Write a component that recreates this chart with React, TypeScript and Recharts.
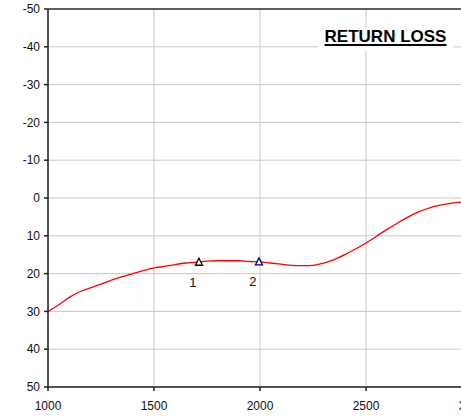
import React from 'react';
import {
  ComposedChart,
  Line,
  Scatter,
  XAxis,
  YAxis,
  CartesianGrid,
  ReferenceLine,
} from 'recharts';

// frequency (MHz) and return loss (dB)
const FREQS = [
  1000, 1050, 1100, 1150, 1200, 1250, 1300, 1350, 1400, 1450, 1500, 1550, 1600,
  1650, 1700, 1750, 1800, 1850, 1900, 1950, 2000, 2050, 2100, 2150, 2200, 2250,
  2300, 2350, 2400, 2450, 2500, 2550, 2600, 2650, 2700, 2750, 2800, 2850, 2900,
  2950, 3000,
];
const RETURN_LOSS = [
  30.0, 28.3, 26.3, 24.8, 23.8, 22.8, 21.7, 20.8, 20.0, 19.2, 18.5, 18.1, 17.6,
  17.2, 17.0, 16.7, 16.6, 16.6, 16.6, 16.8, 16.9, 17.2, 17.5, 17.8, 17.9, 17.8,
  17.2, 16.3, 15.0, 13.5, 11.9, 10.1, 8.3, 6.6, 5.0, 3.6, 2.6, 1.9, 1.4, 1.1,
  0.9,
];

const MARKER_FREQS = [1712, 1995];
const MARKER_VALUES = [17.0, 16.9];
const MARKER_LABELS = ['1', '2'];
const MARKER_COLORS = ['#000000', '#000080'];

const X_TICKS = [1000, 1500, 2000, 2500, 3000];
const Y_TICKS = [-50, -40, -30, -20, -10, 0, 10, 20, 30, 40, 50];

const curve = FREQS.map((f, i) => ({ freq: f, rl: RETURN_LOSS[i] }));
const markers = MARKER_FREQS.map((f, i) => ({
  freq: f,
  rl: MARKER_VALUES[i],
  label: MARKER_LABELS[i],
  color: MARKER_COLORS[i],
}));

const FONT = '"Liberation Sans", Arial, sans-serif';

const Triangle = (props: any) => {
  const { cx, cy, payload } = props;
  if (cx == null || cy == null) return null;
  return (
    <g>
      <path
        d={`M${cx},${cy - 4} L${cx + 3.5},${cy + 3} L${cx - 3.5},${cy + 3} Z`}
        fill="#fff"
        stroke={payload.color}
        strokeWidth={1.3}
      />
      <text
        x={cx - 6}
        y={cy + 21}
        textAnchor="middle"
        dominantBaseline="middle"
        fontSize={13}
        fontFamily={FONT}
        fill="#111"
      >
        {payload.label}
      </text>
    </g>
  );
};

export default function App() {
  return (
    <div
      style={{
        position: 'absolute',
        left: 0,
        top: 0,
        width: 461,
        height: 417,
        overflow: 'hidden',
        background: '#fff',
        fontFamily: FONT,
      }}
    >
      <ComposedChart
        width={500}
        height={417}
        margin={{ top: 9, right: 28, left: 0, bottom: 0 }}
      >
        <CartesianGrid stroke="#c8c8c8" strokeWidth={1} />
        <XAxis
          type="number"
          dataKey="freq"
          domain={[1000, 3000]}
          ticks={X_TICKS}
          allowDataOverflow
          height={30}
          stroke="#222"
          strokeWidth={1.5}
          tickSize={4}
          tickMargin={10}
          tick={{ fontSize: 12, fill: '#111', fontFamily: FONT }}
        />
        <YAxis
          type="number"
          domain={[-50, 50]}
          ticks={Y_TICKS}
          reversed
          allowDataOverflow
          width={48}
          stroke="#222"
          strokeWidth={1.5}
          tickSize={4}
          tickMargin={4}
          tick={{ fontSize: 12, fill: '#111', fontFamily: FONT }}
        />
        <ReferenceLine y={-50} stroke="#333" strokeWidth={1.5} />
        <Line
          data={curve}
          dataKey="rl"
          type="monotone"
          stroke="#ff0000"
          strokeWidth={1.3}
          dot={false}
          isAnimationActive={false}
        />
        <Scatter
          data={markers}
          dataKey="rl"
          shape={<Triangle />}
          isAnimationActive={false}
        />
      </ComposedChart>
      <div
        style={{
          position: 'absolute',
          left: 318,
          top: 28,
          width: 135,
          height: 23,
          background: '#fff',
          textAlign: 'center',
          fontWeight: 'bold',
          fontSize: 17,
          lineHeight: '18px',
          color: '#000',
          textDecoration: 'underline',
          textDecorationThickness: 2,
          textUnderlineOffset: 2,
        }}
      >
        RETURN LOSS
      </div>
    </div>
  );
}
